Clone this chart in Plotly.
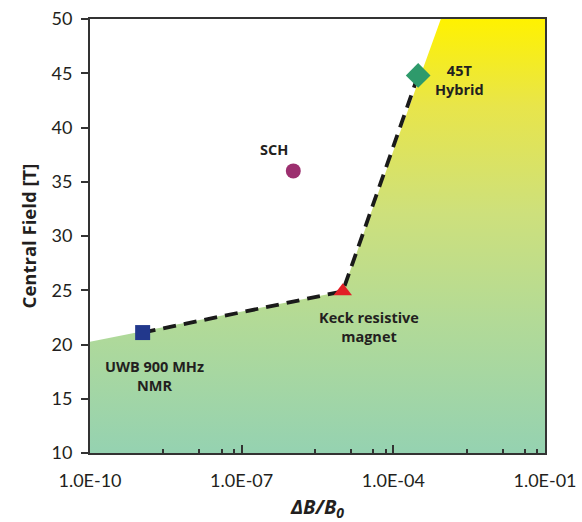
import math
import plotly.graph_objects as go

# ---- data ----
device_names = ["UWB 900 MHz<br>NMR", "Keck resistive<br>magnet", "45T<br>Hybrid", "SCH"]
device_dB = [1.1e-9, 1.0e-5, 3.1e-4, 1.05e-6]
device_field = [21.1, 24.9, 44.8, 36.0]
device_symbols = ["square", "triangle-up", "diamond", "circle"]
device_colors = ["#22388c", "#e21f26", "#2e9a6b", "#9c2f6f"]
device_sizes = [15, 16, 19, 15]
label_dx = [12, 26, 41, -19]
label_dy = [-43, -36, -5, 21]

frontier_line_dB = [1.1e-9, 1.0e-5, 3.1e-4]
frontier_line_field = [21.1, 24.9, 44.8]

region_dB = [1e-10, 1.0e-5, 8.7e-4, 1e-1, 1e-1, 1e-10, 1e-10]
region_field = [20.25, 24.9, 50, 50, 10, 10, 20.25]

x_tickvals = [1e-10, 1e-7, 1e-4, 1e-1]
x_ticktext = ["1.0E-10", "1.0E-07", "1.0E-04", "1.0E-01"]
minor_mantissa = [28, 145, 400, 710]
x_minor = [m * base for base in [1e-10, 1e-7, 1e-4] for m in minor_mantissa]
y_tickvals = [10, 15, 20, 25, 30, 35, 40, 45, 50]

fig = go.Figure()

fig.add_trace(go.Scatter(
    x=region_dB, y=region_field, mode="lines", fill="toself",
    line=dict(width=0, color="rgba(0,0,0,0)"),
    fillgradient=dict(type="vertical",
                      colorscale=[[0, "#95d2b1"], [0.3, "#b2da97"], [0.55, "#cde07c"],
                                  [0.8, "#e8e54a"], [1, "#fff200"]]),
    hoverinfo="skip", showlegend=False))

fig.add_trace(go.Scatter(
    x=frontier_line_dB, y=frontier_line_field, mode="lines",
    line=dict(color="#1a1a1a", width=3.8, dash="13px,8px"),
    showlegend=False))

for name, xv, yv, sym, col, sz in zip(device_names, device_dB, device_field,
                                       device_symbols, device_colors, device_sizes):
    fig.add_trace(go.Scatter(
        x=[xv], y=[yv], mode="markers",
        marker=dict(symbol=sym, color=col, size=sz, line=dict(width=0)),
        name=name, showlegend=False))

for name, xv, yv, dx, dy in zip(device_names, device_dB, device_field, label_dx, label_dy):
    fig.add_annotation(
        x=math.log10(xv), y=yv, xref="x", yref="y", text="<b>" + name + "</b>",
        showarrow=False, xshift=dx, yshift=dy,
        font=dict(family="Open Sans", size=14.5, color="#231f20"), align="center")

axis_font = dict(family="Lato", size=18, color="#231f20")

fig.update_layout(
    width=582, height=522,
    margin=dict(l=90, r=37, t=19, b=69),
    paper_bgcolor="white", plot_bgcolor="white",
    xaxis=dict(
        type="log", range=[-10, -1], automargin=False,
        tickmode="array", tickvals=x_tickvals, ticktext=x_ticktext,
        ticks="inside", ticklen=8, tickwidth=1.5, tickcolor="#333",
        minor=dict(tickmode="array", tickvals=x_minor, ticks="inside",
                   ticklen=4, tickwidth=1.5, tickcolor="#333"),
        showgrid=False, zeroline=False,
        showline=True, linecolor="#333", linewidth=2, mirror=True,
        tickfont=axis_font, ticklabelstandoff=10,
        title=dict(text="<b><i>ΔB/B<sub>0</sub></i></b>",
                   font=dict(family="Open Sans", size=20, color="#231f20"),
                   standoff=12),
    ),
    yaxis=dict(
        range=[10, 50], tickmode="array", tickvals=y_tickvals, automargin=False,
        ticks="outside", ticklen=7, tickwidth=1.5, tickcolor="#333",
        showgrid=False, zeroline=False,
        showline=True, linecolor="#333", linewidth=2, mirror=True,
        tickfont=axis_font, ticklabelstandoff=5,
        title=dict(text="<b>Central Field [T]</b>",
                   font=dict(family="Open Sans", size=18.5, color="#231f20"),
                   standoff=10),
    ),
)

fig.write_html("out.html", config={"displayModeBar": False},
               post_script="document.body.style.margin='0px';")
